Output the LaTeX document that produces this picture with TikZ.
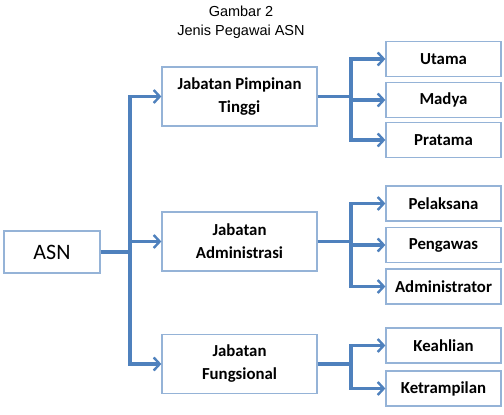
\documentclass[tikz,border=0pt]{standalone}
\usepackage{fontspec}
\setmainfont{Carlito}
\newfontfamily\titlefont{Liberation Sans}
\usetikzlibrary{arrows.meta}
\definecolor{linkblue}{RGB}{79,129,189}
\definecolor{boxblue}{RGB}{149,179,215}
\begin{document}
\begin{tikzpicture}[x=1pt,y=-1pt,
  box/.style={draw=boxblue,line width=1.3pt,fill=white,align=center,inner sep=0pt,
    font=\fontsize{16.8}{23}\selectfont\bfseries},
  midbox/.style={box,minimum width=155pt,minimum height=59pt},
  leafbox/.style={box,minimum width=115pt,minimum height=35pt},
  link/.style={draw=linkblue,line width=3.2pt,-{Straight Barb[length=6pt,width=13pt,line width=2.4pt]}},
  plain/.style={draw=linkblue,line width=3.2pt}]
\useasboundingbox (0,0) rectangle (504,415);
\node[font=\titlefont\fontsize{14.5}{19}\selectfont,align=center] (title) at (241,22.5) {Gambar 2\\Jenis Pegawai ASN};
\node[box,font=\fontsize{22}{26}\selectfont,minimum width=96pt,minimum height=42pt] (asn) at (52,252) {ASN};
\node[midbox] (jpt) at (239.5,96.5) {Jabatan Pimpinan\\Tinggi};
\node[midbox] (ja) at (239.5,241.5) {Jabatan\\Administrasi};
\node[midbox] (jf) at (239.5,364) {Jabatan\\Fungsional};
\node[leafbox] (utama) at (443.5,59) {Utama};
\node[leafbox] (madya) at (443.5,100) {Madya};
\node[leafbox] (pratama) at (443.5,140) {Pratama};
\node[leafbox] (pel) at (443.5,203.5) {Pelaksana};
\node[leafbox] (peng) at (443.5,245) {Pengawas};
\node[leafbox] (adm) at (443.5,286.5) {Administrator};
\node[leafbox] (keah) at (443.5,345.5) {Keahlian};
\node[leafbox] (ketr) at (443.5,388.5) {Ketrampilan};
\coordinate (t0) at (130,252);
\coordinate (t1) at (351,96.5);
\coordinate (t2) at (351,241.5);
\coordinate (t3) at (351,364);
\draw[plain] (asn.east) -- (t0);
\draw[link] (t0) |- (jpt.west);
\draw[link] (t0) |- (ja.west);
\draw[link] (t0) |- (jf.west);
\draw[plain] (jpt.east) -- (t1);
\draw[link] (t1) |- (utama.west);
\draw[link] (t1) |- (madya.west);
\draw[link] (t1) |- (pratama.west);
\draw[plain] (ja.east) -- (t2);
\draw[link] (t2) |- (pel.west);
\draw[link] (t2) |- (peng.west);
\draw[link] (t2) |- (adm.west);
\draw[plain] (jf.east) -- (t3);
\draw[link] (t3) |- (keah.west);
\draw[link] (t3) |- (ketr.west);
\end{tikzpicture}
\end{document}
